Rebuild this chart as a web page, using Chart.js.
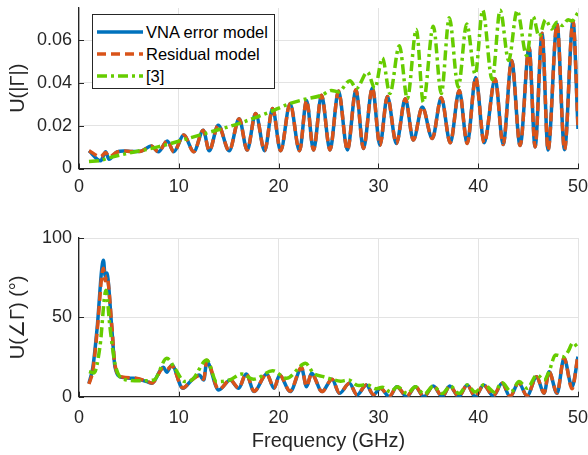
<!DOCTYPE html>
<html>
<head>
<meta charset="utf-8">
<script src="https://cdn.jsdelivr.net/npm/chart.js@4.4.1/dist/chart.umd.min.js"></script>
<style>
    body { margin: 0; background: #fff; }
    #wrap { position: relative; width: 588px; height: 455px; font-family: "Liberation Sans", Arial, sans-serif; }
    #wrap canvas { position: absolute; left: 0; }
    #legend {
        position: absolute; left: 92px; top: 14px; width: 183px; height: 75px;
        background: #fff; border: 1px solid #262626; box-sizing: border-box;
        font-size: 16.5px; color: #000;
    }
    .row { position: absolute; left: 4px; height: 20px; display: flex; align-items: center; }
    .row svg { margin-right: 3px; }
</style>
</head>
<body>
<div id="wrap">
    <canvas id="chartMag" width="588" height="200" style="top:0"></canvas>
    <canvas id="chartAng" width="588" height="255" style="top:200px"></canvas>
    <div id="legend">
        <div class="row" style="top:7px"><svg width="46" height="6"><line x1="0" y1="3" x2="46" y2="3" stroke="#0072BD" stroke-width="3.5"/></svg>VNA error model</div>
        <div class="row" style="top:29px"><svg width="46" height="6"><line x1="0" y1="3" x2="46" y2="3" stroke="#D95319" stroke-width="3.5" stroke-dasharray="9 5"/></svg>Residual model</div>
        <div class="row" style="top:51px"><svg width="46" height="6"><line x1="0" y1="3" x2="46" y2="3" stroke="#66cc00" stroke-width="3.5" stroke-dasharray="10 4 3 4"/></svg>[3]</div>
    </div>
</div>
<script>
// ===== DADOS =====
const xTicks = [0, 10, 20, 30, 40, 50];
const magTicks = [0, 0.02, 0.04, 0.06];
const angTicks = [0, 50, 100];

// |Γ| - modelos VNA e residual
const magFreq = [1.0, 2.17, 2.67, 3.0, 3.8, 4.5, 5.3, 6.2, 7.25, 7.95, 8.85, 9.5, 10.5, 11.5, 12.45, 13.05, 13.95, 15.05, 16.05, 16.85,
    17.7, 18.6, 19.4, 20.2, 21.15, 22.1, 22.8, 23.5, 24.3, 25.15, 26.0, 26.9, 27.75, 28.5, 29.4, 30.15, 30.9, 31.8, 32.7, 33.5,
    34.4, 35.4, 36.3, 37.2, 38.1, 38.9, 39.75, 40.6, 41.7, 42.5, 43.35, 44.2, 45.1, 45.7, 46.4, 47.0, 47.9, 48.65, 49.5, 50.0];
const vnaMag = [0.0083, 0.0036, 0.0078, 0.0043, 0.0078, 0.0082, 0.0079, 0.0081, 0.0105, 0.0078, 0.0129, 0.0078, 0.0156, 0.0078, 0.0179, 0.0083, 0.0202, 0.0083, 0.0233, 0.0086,
    0.0257, 0.0083, 0.0280, 0.0083, 0.0303, 0.0083, 0.0318, 0.0086, 0.0342, 0.0087, 0.0362, 0.0086, 0.0368, 0.0094, 0.0377, 0.0109, 0.0337, 0.0117, 0.0326, 0.0133,
    0.0287, 0.0140, 0.0331, 0.0120, 0.0365, 0.0117, 0.0425, 0.0120, 0.0418, 0.0112, 0.0505, 0.0107, 0.0566, 0.0101, 0.0632, 0.0086, 0.0675, 0.0088, 0.0689, 0.0185];
const resMag = [0.0083, 0.0055, 0.0075, 0.0055, 0.0076, 0.0082, 0.0079, 0.0081, 0.0105, 0.0078, 0.0129, 0.0078, 0.0156, 0.0078, 0.0179, 0.0083, 0.0202, 0.0083, 0.0233, 0.0086,
    0.0257, 0.0083, 0.0280, 0.0083, 0.0303, 0.0083, 0.0318, 0.0086, 0.0342, 0.0087, 0.0362, 0.0086, 0.0368, 0.0094, 0.0377, 0.0109, 0.0337, 0.0117, 0.0326, 0.0133,
    0.0287, 0.0140, 0.0331, 0.0120, 0.0365, 0.0117, 0.0425, 0.0120, 0.0418, 0.0112, 0.0505, 0.0107, 0.0566, 0.0101, 0.0632, 0.0086, 0.0675, 0.0088, 0.0689, 0.0200];

// |Γ| - referência [3]
const refMagFreq = [1.0, 2.0, 3.0, 5.0, 8.0, 12.0, 16.0, 19.0, 21.1, 22.5, 24.3, 25.3, 26.0, 27.15, 27.8, 28.9, 29.65, 30.4, 31.15, 32.1, 32.9, 33.8,
    34.5, 35.5, 36.3, 37.1, 38.0, 38.85, 39.7, 40.45, 41.4, 42.2, 43.05, 43.9, 44.85, 45.5, 46.1, 46.75, 47.35, 47.9, 48.45, 49.0, 49.4, 50.0];
const refMag = [0.0033, 0.0036, 0.0050, 0.0072, 0.0102, 0.0155, 0.0210, 0.0262, 0.0303, 0.0322, 0.0342, 0.0365, 0.0358, 0.0410, 0.0375, 0.0450, 0.0375, 0.0517, 0.0350, 0.0574, 0.0326, 0.0650,
    0.0310, 0.0665, 0.0350, 0.0704, 0.0380, 0.0675, 0.0440, 0.0740, 0.0415, 0.0740, 0.0505, 0.0738, 0.0528, 0.0710, 0.0617, 0.0695, 0.0652, 0.0683, 0.0668, 0.0695, 0.0690, 0.0728];

// ∠Γ - modelos VNA e residual
const angFreq = [1.0, 1.4, 1.8, 2.45, 2.62, 2.78, 3.3, 3.6, 4.3, 5.45, 6.8, 7.3, 8.45, 8.8, 9.3, 10.4, 11.3, 12.05, 12.5, 12.8,
    14.0, 15.15, 16.0, 16.75, 17.55, 18.8, 19.55, 20.1, 21.15, 22.3, 22.8, 23.3, 24.35, 25.35, 26.1, 27.1, 27.85, 28.8, 29.5, 30.2,
    31.1, 31.85, 32.85, 33.7, 34.55, 35.5, 36.4, 37.15, 38.05, 38.9, 39.7, 40.55, 41.5, 42.4, 43.2, 44.05, 44.9, 45.85, 46.6, 47.1,
    47.9, 48.6, 49.4, 50.0];
const vnaAng = [8.4, 18.9, 42, 86, 76, 78, 42, 19, 12.2, 11.6, 9.5, 8.4, 18.5, 15.4, 20, 5.3, 10.5, 13.7, 10.5, 22,
    4.2, 10.5, 5.3, 14.3, 3.2, 14.3, 5.3, 13.7, 3.2, 17.9, 6.3, 14.7, 3.2, 11, 2.1, 8.4, 1.1, 7.4, 1.1, 5.3,
    0, 6.3, 0, 6.3, 0, 6.7, 0, 6.7, 0, 7.4, 0, 7.4, 0.5, 8.4, 0, 8.8, 0.5, 12.6, 2.1, 15.8,
    2.1, 24.2, 6.3, 25.2];
const resAng = [8.0, 17, 40, 81, 73, 76, 44, 20, 12.5, 11.8, 9.8, 8.6, 18, 17, 19.5, 5.5, 10.5, 13.2, 11, 23,
    4.5, 10.5, 5.5, 14.5, 3.5, 14.3, 5.5, 13.7, 3.5, 18.5, 6.5, 14.5, 3.2, 11, 2.3, 8.4, 1.3, 7.4, 1.3, 5.3,
    0.3, 6.3, 0.3, 6.3, 0.2, 6.7, 0.2, 6.7, 0.2, 7.4, 0.2, 7.4, 0.6, 8.4, 0.2, 8.8, 0.6, 12.6, 2.3, 15.8,
    2.3, 24.5, 5, 26.5];

// ∠Γ - referência [3]
const refAngFreq = [1.0, 1.5, 2.1, 2.7, 3.1, 3.6, 4.45, 6.1, 7.5, 8.8, 9.6, 10.6, 11.4, 12.8, 13.8, 15.1, 16.3, 17.5, 19.4, 20.8,
    22.7, 23.5, 24.5, 25.35, 26.2, 27.0, 28.0, 28.8, 29.8, 30.4, 31.2, 31.9, 32.9, 33.7, 34.6, 35.5, 36.4, 37.2, 38.1, 38.9,
    39.7, 40.6, 41.6, 42.4, 43.3, 44.1, 44.9, 45.9, 46.6, 47.1, 47.75, 48.6, 49.0, 49.5, 50.0];
const refAng = [15.8, 15.0, 31.5, 67, 44, 21, 11, 10, 10.5, 24.2, 17.9, 9.5, 11, 23.1, 9.5, 10.5, 14.3, 11, 16.4, 11.6,
    21, 14.7, 12.6, 11, 9.8, 10.5, 7, 7.6, 5, 6, 3, 6.3, 2, 6.3, 1.6, 6.7, 2, 6.7, 2, 7.4,
    3, 7.6, 3, 8.8, 3, 9.5, 5.3, 13.7, 10.5, 15.8, 26.3, 25.2, 28.4, 34, 30.5];

/* ===== ESTILO ===== */
const FONTE = "'Liberation Sans', Arial, sans-serif";
const COR_EIXO = "#262626";
const COR_GRADE = "#e3e3e3";

function pares(xs, ys) {
    return xs.map((x, i) => ({ x: x, y: ys[i] }));
}

function serie(xs, ys, cor, dash, ordem) {
    return {
        data: pares(xs, ys),
        borderColor: cor,
        borderWidth: 3.5,
        borderDash: dash,
        pointRadius: 0,
        fill: false,
        cubicInterpolationMode: "monotone",
        order: ordem
    };
}

// ticks para dentro, estilo MATLAB
const ticksInternos = {
    id: "ticksInternos",
    afterDatasetsDraw(chart) {
        const { ctx, chartArea: a, scales: { x, y } } = chart;
        ctx.save();
        ctx.strokeStyle = COR_EIXO;
        ctx.lineWidth = 1;
        x.ticks.forEach(t => {
            const px = Math.round(x.getPixelForValue(t.value)) + 0.5;
            ctx.beginPath(); ctx.moveTo(px, a.bottom); ctx.lineTo(px, a.bottom - 5); ctx.stroke();
        });
        y.ticks.forEach(t => {
            const py = Math.round(y.getPixelForValue(t.value)) + 0.5;
            ctx.beginPath(); ctx.moveTo(a.left, py); ctx.lineTo(a.left + 5, py); ctx.stroke();
        });
        ctx.restore();
    }
};

function opcoes(yMax, yTicks, yTitulo, alturaX, xTitulo, padTopo, padTickX) {
    return {
        responsive: false,
        animation: false,
        devicePixelRatio: 1,
        layout: { padding: { top: padTopo, right: 10, left: 0, bottom: 0 } },
        plugins: { legend: { display: false }, tooltip: { enabled: false } },
        scales: {
            x: {
                type: "linear", min: 0, max: 50,
                afterBuildTicks: s => { s.ticks = xTicks.map(v => ({ value: v })); },
                afterFit: s => { s.height = alturaX; s.paddingLeft = 0; s.paddingRight = 0; },
                grid: { color: COR_GRADE, drawTicks: false },
                border: { color: COR_EIXO, width: 1.3 },
                ticks: { color: COR_EIXO, font: { family: FONTE, size: 18 }, padding: padTickX, maxRotation: 0 },
                title: {
                    display: !!xTitulo, text: xTitulo, color: COR_EIXO,
                    font: { family: FONTE, size: 20 }, padding: { top: 2, bottom: 2 }
                }
            },
            y: {
                type: "linear", min: 0, max: yMax,
                afterBuildTicks: s => { s.ticks = yTicks.map(v => ({ value: v })); },
                afterFit: s => { s.width = 79; s.paddingTop = 0; s.paddingBottom = 0; },
                grid: { color: COR_GRADE, drawTicks: false },
                border: { color: COR_EIXO, width: 1.3 },
                ticks: { color: COR_EIXO, font: { family: FONTE, size: 18 }, padding: 7, callback: v => String(v) },
                title: {
                    display: true, text: yTitulo, color: COR_EIXO,
                    font: { family: FONTE, size: 20 }, padding: { top: 6, bottom: 0 }
                }
            }
        }
    };
}

/* ===== GRÁFICO |Γ| ===== */
new Chart(document.getElementById("chartMag"), {
    type: "line",
    data: {
        datasets: [
            serie(magFreq, vnaMag, "#0072BD", [], 3),
            serie(magFreq, resMag, "#D95319", [9, 5], 2),
            serie(refMagFreq, refMag, "#66cc00", [10, 4, 3, 4], 1)
        ]
    },
    options: opcoes(0.075, magTicks, "U(|Γ|)", 31.5, "", 8, 8),
    plugins: [ticksInternos]
});

/* ===== GRÁFICO ∠Γ ===== */
new Chart(document.getElementById("chartAng"), {
    type: "line",
    data: {
        datasets: [
            serie(angFreq, vnaAng, "#0072BD", [], 3),
            serie(angFreq, resAng, "#D95319", [9, 5], 2),
            serie(refAngFreq, refAng, "#66cc00", [10, 4, 3, 4], 1)
        ]
    },
    options: opcoes(100, angTicks, "U(∠Γ) (°)", 58.3, "Frequency (GHz)", 38, 11),
    plugins: [ticksInternos]
});
</script>
</body>
</html>
